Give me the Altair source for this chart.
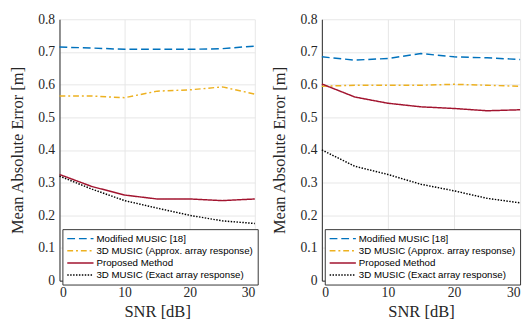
import altair as alt
import pandas as pd

snr = [0, 5, 10, 15, 20, 25, 30]
series_names = [
    "Modified MUSIC [18]",
    "3D MUSIC (Approx. array response)",
    "Proposed Method",
    "3D MUSIC (Exact array response)",
]
colors = ["#0072BD", "#EDB120", "#A2142F", "#000000"]
dashes = [[8, 4], [6, 3, 2, 3], [1, 0], [1.5, 1.5]]

left_mod = [0.715, 0.712, 0.708, 0.708, 0.708, 0.710, 0.718]
left_approx = [0.565, 0.565, 0.560, 0.580, 0.584, 0.593, 0.571]
left_prop = [0.325, 0.288, 0.262, 0.250, 0.250, 0.245, 0.250]
left_exact = [0.320, 0.280, 0.245, 0.222, 0.200, 0.183, 0.175]

right_mod = [0.685, 0.675, 0.680, 0.695, 0.685, 0.682, 0.677]
right_approx = [0.595, 0.598, 0.598, 0.598, 0.601, 0.598, 0.595]
right_prop = [0.602, 0.562, 0.543, 0.532, 0.527, 0.520, 0.523]
right_exact = [0.400, 0.350, 0.325, 0.295, 0.275, 0.252, 0.238]

y_ticks = [0, 0.1, 0.2, 0.3, 0.4, 0.5, 0.6, 0.7, 0.8]
x_ticks = [0, 10, 20, 30]


def make_df(vals):
    rows = []
    for name, v in zip(series_names, vals):
        for s, e in zip(snr, v):
            rows.append({"SNR": s, "MAE": e, "Series": name})
    return pd.DataFrame(rows)


def panel(vals, w):
    df = make_df(vals)
    return (
        alt.Chart(df)
        .mark_line(strokeWidth=1.5)
        .encode(
            x=alt.X(
                "SNR:Q",
                scale=alt.Scale(domain=[0, 30], nice=False),
                axis=alt.Axis(values=x_ticks, title="SNR [dB]", format="d"),
            ),
            y=alt.Y(
                "MAE:Q",
                scale=alt.Scale(domain=[0, 0.8], nice=False),
                axis=alt.Axis(
                    values=y_ticks,
                    title="Mean Absolute Error [m]",
                    labelExpr="datum.value == 0 ? '0' : format(datum.value, '.1f')",
                ),
            ),
            color=alt.Color(
                "Series:N",
                scale=alt.Scale(domain=series_names, range=colors),
                legend=alt.Legend(
                    title=None,
                    orient="none",
                    legendX=3,
                    legendY=216,
                    symbolType="stroke",
                    symbolSize=729,
                    symbolStrokeWidth=1.5,
                    clipHeight=11.5,
                    rowPadding=0.5,
                    labelFont="Liberation Sans",
                    labelFontSize=10,
                    labelLimit=400,
                    labelColor="#000000",
                    strokeColor="#333333",
                    fillColor="#ffffff",
                    padding=4,
                    labelOffset=2,
                ),
            ),
            strokeDash=alt.StrokeDash(
                "Series:N",
                scale=alt.Scale(domain=series_names, range=dashes),
                legend=None,
            ),
        )
        .properties(width=w, height=269)
    )


chart = (
    alt.hconcat(panel([left_mod, left_approx, left_prop, left_exact], 201),
                panel([right_mod, right_approx, right_prop, right_exact], 204),
                spacing=12)
    .resolve_scale(color="independent", strokeDash="independent")
    .resolve_legend(color="independent")
    .configure(padding=0)
    .configure_view(stroke=None)
    .configure_axis(
        labelFont="Liberation Serif",
        labelFontSize=14,
        labelColor="#262626",
        titleFont="Liberation Serif",
        titleFontSize=17,
        titleFontWeight="normal",
        titleColor="#262626",
        domainColor="#262626",
        tickColor="#262626",
        tickSize=0,
        gridColor="#e6e6e6",
        gridWidth=1,
        labelPadding=5,
    )
    .configure_axisY(titlePadding=12)
    .configure_axisX(titlePadding=5)
)

chart.save("out.html", embed_options={"renderer": "svg", "actions": False})
